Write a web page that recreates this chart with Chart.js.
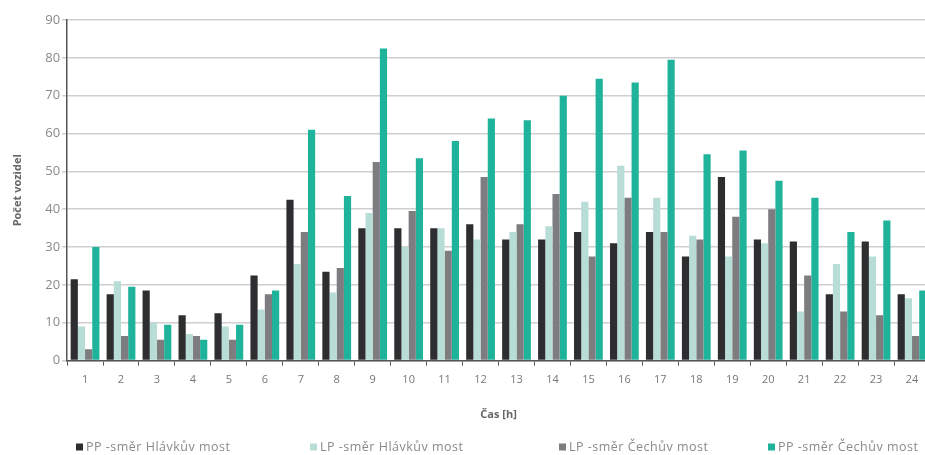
<!DOCTYPE html>
<html>
<head>
<meta charset="utf-8">
<script src="https://cdn.jsdelivr.net/npm/chart.js@4/dist/chart.umd.min.js"></script>
<style>
html,body{margin:0;padding:0;background:#fff;overflow:hidden;width:925px;height:455px;}
#wrap{position:relative;width:940px;height:455px;}
</style>
</head>
<body>
<div id="wrap"><canvas id="c"></canvas></div>
<script>
const hours = ['1','2','3','4','5','6','7','8','9','10','11','12','13','14','15','16','17','18','19','20','21','22','23','24'];
const ppHlavkuv = [21.5,17.5,18.5,12,12.5,22.5,42.5,23.5,35,35,35,36,32,32,34,31,34,27.5,48.5,32,31.5,17.5,31.5,17.5];
const lpHlavkuv = [9,21,10,7,9,13.5,25.5,18,39,30,35,32,34,35.5,42,51.5,43,33,27.5,31,13,25.5,27.5,16.5];
const lpCechuv  = [3,6.5,5.5,6.5,5.5,17.5,34,24.5,52.5,39.5,29,48.5,36,44,27.5,43,34,32,38,40,22.5,13,12,6.5];
const ppCechuv  = [30,19.5,9.5,5.5,9.5,18.5,61,43.5,82.5,53.5,58,64,63.5,70,74.5,73.5,79.5,54.5,55.5,47.5,43,34,37,18.5];
const seriesNames = ['PP -směr Hlávkův most','LP -směr Hlávkův most','LP -směr Čechův most','PP -směr Čechův most'];
const yTicks = [0,10,20,30,40,50,60,70,80,90];

const colors = ['#2e2e30','#b8ddd6','#7d7d80','#1fb39c'];
const font = '"Open Sans", Lato, sans-serif';

const spreadLegend = {
  id: 'spreadLegend',
  afterDraw(chart, args, opts) {
    const ctx = chart.ctx;
    ctx.save();
    ctx.font = '12.5px ' + font;
    if ('letterSpacing' in ctx) ctx.letterSpacing = '0.5px';
    ctx.textBaseline = 'middle';
    ctx.textAlign = 'left';
    chart.data.datasets.forEach((ds, i) => {
      const x = opts.xs[i];
      const y = opts.y;
      ctx.fillStyle = ds.backgroundColor;
      ctx.fillRect(x, y - 3.5, 7, 7);
      ctx.fillStyle = '#8a8a8a';
      ctx.fillText(ds.label, x + 10, y);
    });
    ctx.restore();
  }
};

new Chart(document.getElementById('c'), {
  type: 'bar',
  data: {
    labels: hours,
    datasets: [ppHlavkuv, lpHlavkuv, lpCechuv, ppCechuv].map((d,i)=>({
      label: seriesNames[i],
      data: d,
      backgroundColor: colors[i],
      borderWidth: 0,
      categoryPercentage: 0.8,
      barPercentage: 1.0
    }))
  },
  plugins: [spreadLegend],
  options: {
    responsive: true,
    maintainAspectRatio: false,
    animation: false,
    layout: { padding: { left: 11, right: 10, top: 20, bottom: 34 } },
    plugins: {
      tooltip: { enabled: false },
      legend: { display: false },
      spreadLegend: { xs: [76, 310, 559, 768], y: 447 }
    },
    scales: {
      x: {
        grid: { display: true, drawOnChartArea: false, drawTicks: true, tickLength: 5, color: '#555', offset: true },
        border: { color: '#555', width: 1.5 },
        ticks: { color: '#777', font: { family: font, size: 11 }, padding: 8 },
        title: { display: true, text: 'Čas [h]', color: '#666', font: { family: font, size: 11, weight: 'bold' }, padding: { top: 13, bottom: 0 } }
      },
      y: {
        min: 0, max: 90,
        afterBuildTicks: (axis) => { axis.ticks = yTicks.map(v => ({ value: v })); },
        grid: { color: '#cfcfcf', lineWidth: 1.5, drawTicks: true, tickLength: 5 },
        border: { color: '#555', width: 1.5 },
        ticks: { color: '#8a8a8a', font: { family: font, size: 13 }, padding: 2 },
        title: { display: true, text: 'Počet vozidel', color: '#666', font: { family: font, size: 11, weight: 'bold' }, padding: { top: 0, bottom: 19 } }
      }
    }
  }
});
</script>
</body>
</html>
